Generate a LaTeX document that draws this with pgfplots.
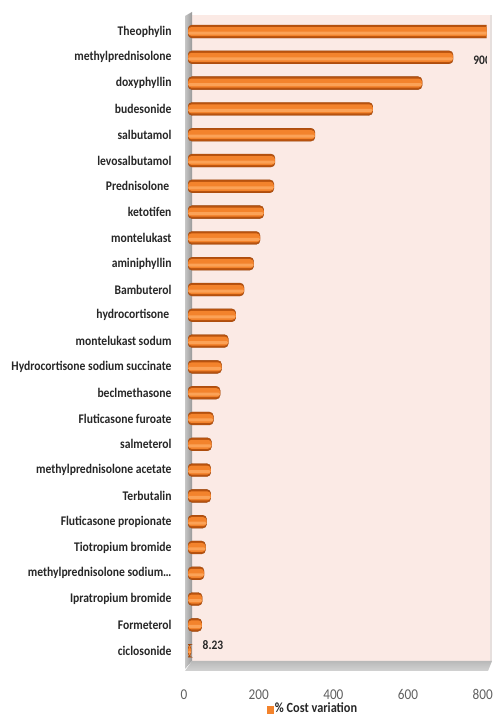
\documentclass[border=0pt]{standalone}
\usepackage{pgfplots}
\pgfplotsset{compat=1.18}
\usepackage{fontspec}
\setmainfont{Carlito}[FakeStretch=0.88]
\definecolor{barmid}{HTML}{F3832C}
\definecolor{barlight}{HTML}{FBA257}
\definecolor{bardark}{HTML}{B8520E}
\definecolor{wall}{HTML}{FBEAE5}
\definecolor{txt}{HTML}{262626}
\begin{document}
\begin{tikzpicture}
\useasboundingbox (0,0) rectangle (494bp,719bp);
% back wall, left wall and floor (decoration)
\fill[wall] (190bp,58bp) rectangle (492bp,704bp);
\fill[wall!70!gray!60] (490bp,58bp) rectangle (492bp,704bp);
\shade[left color=gray!45, right color=gray!80] (185bp,50bp) -- (185bp,703bp) -- (192bp,707bp) -- (192bp,58bp) -- cycle;
\shade[top color=gray!55, bottom color=gray!35] (185bp,48bp) -- (488bp,48bp) -- (492bp,58bp) -- (192bp,58bp) -- cycle;
\pgfplotstableread{
v y
900 0
710 1
627 2
495 3
340 4
233 5
230 6
203 7
193 8
176 9
150 10
128 11
108 12
90 13
86 14
68 15
63 16
61 17
61 18
50 19
47 20
43 21
38 22
37 23
8.23 24
}\costdata
\begin{axis}[
  at={(188bp,58bp)}, anchor=south west,
  scale only axis, width=298.7bp, height=646bp,
  xmin=0, xmax=800,
  ymin=-0.64, ymax=24.4, y dir=reverse,
  axis line style={draw=none},
  clip=true,
  ytick={0,...,24},
  yticklabels={Theophylin, methylprednisolone, doxyphyllin, budesonide, salbutamol, levosalbutamol, {Prednisolone\,}, ketotifen, montelukast, aminiphyllin, Bambuterol, {hydrocortisone\,}, montelukast sodum, Hydrocortisone sodium succinate, beclmethasone, Fluticasone furoate, salmeterol, methylprednisolone acetate, Terbutalin, Fluticasone propionate, Tiotropium bromide, {methylprednisolone sodium\ldots}, Ipratropium bromide, Formeterol, ciclosonide},
  xtick={0,200,400,600,800},
  major tick length=0pt,
  yticklabel style={font=\fontsize{13.2bp}{14bp}\selectfont\bfseries, text=txt, anchor=east, xshift=-13bp},
  xticklabel style={font=\fontsize{15bp}{16bp}\selectfont, text=gray!75!black, yshift=-25bp, xshift=-4bp},
  /pgf/number format/assume math mode=true,
  legend style={at={(axis description cs:0.418,-0.074)}, anchor=center, draw=none, fill=none,
    font=\fontsize{14bp}{15bp}\selectfont\bfseries, text=txt, inner sep=0pt},
]
\addplot[xbar, bar width=13bp, draw=bardark!85!black, line width=0.3pt, fill=bardark, rounded corners=4bp,
  legend image code/.code={\fill[barmid, sharp corners] (0bp,-4.5bp) rectangle (6bp,3bp);}]
  table[x=v, y=y] {\costdata};
\addlegendentry{\% Cost variation}
\addplot[xbar, bar width=9bp, draw=none, fill=barmid, rounded corners=3.5bp, forget plot]
  table[x=v, y=y] {\costdata};
\addplot[xbar, bar width=3bp, draw=none, fill=barlight, rounded corners=1.5bp, forget plot, bar shift=-1.5bp]
  table[x=v, y=y] {\costdata};
\node[overlay, anchor=west, text=txt, font=\fontsize{13bp}{14bp}\selectfont\bfseries] at (axis cs:755,1.1) {900};
\node[anchor=west, text=txt, font=\fontsize{13bp}{14bp}\selectfont\bfseries] at (axis cs:30,23.8) {8.23};
\end{axis}
\end{tikzpicture}
\end{document}
